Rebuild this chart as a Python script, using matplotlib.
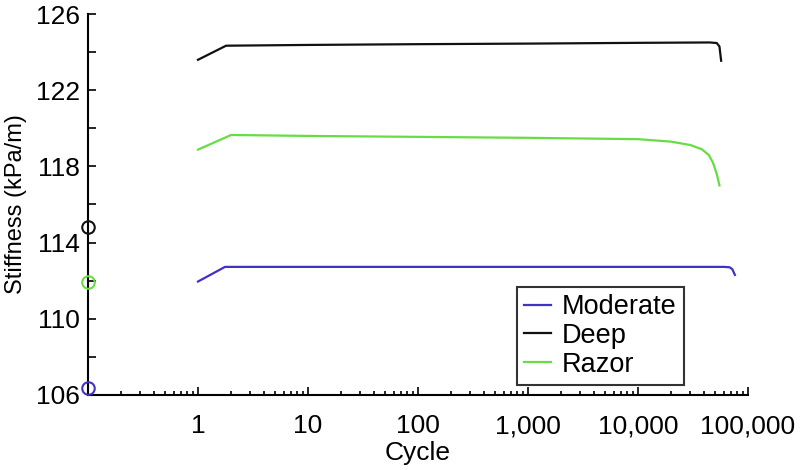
import numpy as np
import matplotlib
matplotlib.use("Agg")
import matplotlib.pyplot as plt
from matplotlib.ticker import LogLocator, NullFormatter, MultipleLocator

plt.rcParams['font.family'] = ['Liberation Sans', 'DejaVu Sans']

# data
mod_x = [1, 1.76, 10, 100, 1000, 10000, 60000, 68000, 72000, 76000]
mod_y = [111.95, 112.72, 112.72, 112.72, 112.72, 112.72, 112.72, 112.7, 112.6, 112.3]

deep_x = [1, 1.8, 10, 100, 1000, 10000, 45000, 52000, 55000, 57000]
deep_y = [123.6, 124.34, 124.38, 124.42, 124.45, 124.49, 124.51, 124.48, 124.3, 123.55]

razor_x = [1, 2, 10, 100, 1000, 10000, 20000, 30000, 38000, 44000, 48000, 52000, 55000]
razor_y = [118.88, 119.65, 119.6, 119.55, 119.5, 119.43, 119.3, 119.12, 118.9, 118.6, 118.2, 117.6, 117.0]

# initial values (circles on the y axis)
init_x = 0.1
init_y = {'Moderate': 106.37, 'Deep': 114.8, 'Razor': 111.95}

colors = {'Moderate': '#4033c4', 'Deep': '#111111', 'Razor': '#66dd44'}

xticks = [1, 10, 100, 1000, 10000, 100000]
xticklabels = ['1', '10', '100', '1,000', '10,000', '100,000']
yticks = [106, 110, 114, 118, 122, 126]

fig = plt.figure(figsize=(8, 4.7), dpi=100)
ax = fig.add_axes([0.11, 0.16, 0.825, 0.81])

ax.plot(mod_x, mod_y, color=colors['Moderate'], lw=1.6, label='Moderate')
ax.plot(deep_x, deep_y, color=colors['Deep'], lw=1.6, label='Deep')
ax.plot(razor_x, razor_y, color=colors['Razor'], lw=1.6, label='Razor')

for k in ['Deep', 'Razor', 'Moderate']:
    ax.plot([init_x], [init_y[k]], 'o', mfc='none', mec=colors[k],
            ms=9, mew=1.5, clip_on=False, zorder=5)

ax.set_xscale('log')
ax.set_xlim(0.1, 100000)
ax.set_ylim(106, 126)
ax.set_xticks(xticks)
ax.set_xticklabels(xticklabels)
ax.xaxis.set_minor_locator(LogLocator(base=10, subs=np.arange(2, 10)))
ax.xaxis.set_minor_formatter(NullFormatter())
ax.set_yticks(yticks)
ax.yaxis.set_minor_locator(MultipleLocator(2))

for s in ['top', 'right']:
    ax.spines[s].set_visible(False)
for s in ['left', 'bottom']:
    ax.spines[s].set_linewidth(1.5)

ax.tick_params(which='both', direction='in', labelsize=19, width=1.2)
ax.tick_params(axis='x', which='major', length=6, pad=14)
ax.tick_params(axis='x', which='minor', length=3)
ax.tick_params(axis='y', which='both', length=6, pad=6)

ax.set_xlabel('Cycle', fontsize=19, labelpad=2)
ax.set_ylabel('Stiffness (kPa/m)', fontsize=17, labelpad=6)

leg = ax.legend(loc='lower left', bbox_to_anchor=(0.65, 0.026), fontsize=19.5,
                frameon=True, fancybox=False, handlelength=1.0, handletextpad=0.4,
                labelspacing=0.1, borderpad=0.27, borderaxespad=0)
leg.get_frame().set_edgecolor('black')
leg.get_frame().set_linewidth(1.5)

fig.savefig('out.png', dpi=100)
